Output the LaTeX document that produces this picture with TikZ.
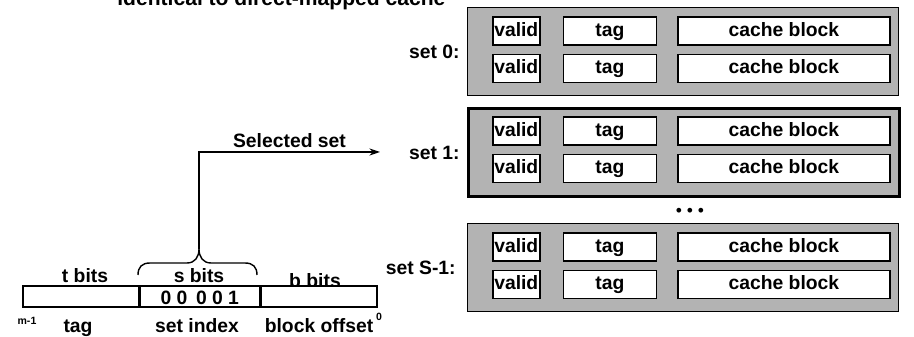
\documentclass[tikz,border=0pt]{standalone}
\usepackage{fontspec}
\setmainfont{Liberation Sans}
\usepackage{tikz}
\usetikzlibrary{arrows.meta,positioning}
\definecolor{setgray}{HTML}{B3B3B3}
\definecolor{ink}{HTML}{000000}

\begin{document}
\begin{tikzpicture}[x=0.02cm, y=-0.02cm, >={Stealth[length=6pt,width=4pt]},
  every node/.style={font=\fontsize{11}{13}\selectfont\bfseries, inner sep=0pt, text=ink},
  setbox/.style={draw=ink, line width=0.8pt, fill=setgray, minimum width=8.62cm, minimum height=1.76cm, anchor=north west},
  validbox/.style={draw=ink, line width=0.9pt, fill=white, minimum width=0.94cm, minimum height=0.56cm, text height=8pt, text depth=2pt},
  tagbox/.style={validbox, minimum width=1.86cm},
  blockbox/.style={validbox, minimum width=4.24cm},
  field/.style={draw=ink, line width=0.9pt, fill=white, minimum height=0.42cm, anchor=north west},
  tinylbl/.style={font=\fontsize{6}{7}\selectfont\bfseries}]
\useasboundingbox (0,0) rectangle (914,337);
\clip (0,0) rectangle (914,337);
\node[anchor=base west, font=\fontsize{12}{14}\selectfont\bfseries] (title) at (117,6) {identical to direct-mapped cache};
% the three sets
\node[setbox] (set0) at (467,7) {};
\node[setbox, line width=1.7pt] (set1) at (467,107) {};
\node[setbox] (setS) at (467,223) {};
\node[left=0.14cm of set0.west] (s0lbl) {set 0:};
\node[left=0.14cm of set1.west] (s1lbl) {set 1:};
\node[left=0.22cm of setS.west] (sSlbl) {set S-1:};
% set 0 lines
\node[validbox, below right=0.18cm and 0.5cm of set0.north west] (v0a) {valid};
\node[tagbox, right=0.44cm of v0a] (t0a) {tag};
\node[blockbox, right=0.4cm of t0a] (b0a) {cache block};
\node[validbox, below=0.16cm of v0a] (v0b) {valid};
\node[tagbox, right=0.44cm of v0b] (t0b) {tag};
\node[blockbox, right=0.4cm of t0b] (b0b) {cache block};
% set 1 lines
\node[validbox, below right=0.18cm and 0.5cm of set1.north west] (v1a) {valid};
\node[tagbox, right=0.44cm of v1a] (t1a) {tag};
\node[blockbox, right=0.4cm of t1a] (b1a) {cache block};
\node[validbox, below=0.16cm of v1a] (v1b) {valid};
\node[tagbox, right=0.44cm of v1b] (t1b) {tag};
\node[blockbox, right=0.4cm of t1b] (b1b) {cache block};
% set S-1 lines
\node[validbox, below right=0.18cm and 0.5cm of setS.north west] (vSa) {valid};
\node[tagbox, right=0.44cm of vSa] (tSa) {tag};
\node[blockbox, right=0.4cm of tSa] (bSa) {cache block};
\node[validbox, below=0.16cm of vSa] (vSb) {valid};
\node[tagbox, right=0.44cm of vSb] (tSb) {tag};
\node[blockbox, right=0.4cm of tSb] (bSb) {cache block};
\node[font=\fontsize{10}{12}\selectfont] (dots) at (690,212) {\textbullet\ \textbullet\ \textbullet};
% address bits
\node[anchor=base] (tbits) at (85,283) {t bits};
\node[anchor=base] (sbits) at (199,283) {s bits};
\node[anchor=base] (bbits) at (315,288) {b bits};
\node[field, minimum width=2.32cm] (tagfld) at (22,285) {};
\node[field, minimum width=2.38cm, right=0pt of tagfld] (idxfld) {};
\node[field, minimum width=2.32cm, right=0pt of idxfld] (offfld) {};
\node[anchor=base] (idxval) at ([yshift=1.5pt]idxfld.south) {0\hspace{3pt}0\hspace{5pt}0\hspace{3pt}0\hspace{3pt}1};
\node[anchor=base] (taglbl) at (78,333) {tag};
\node[anchor=base] (idxlbl) at (197,333) {set index};
\node[anchor=base] (offlbl) at (319,333) {block offset};
\node[tinylbl] (hibit) at (27,321) {m-1};
\node[tinylbl] (lobit) at (379,317) {0};
% brace over the set index
\draw[line width=0.8pt] (138,275) .. controls (138,267) and (142,263) .. (150,263)
  -- (187,263) .. controls (195,263) and (199,257) .. (199,249)
  .. controls (199,257) and (203,263) .. (211,263)
  -- (245,263) .. controls (253,263) and (257,267) .. (257,275);
\coordinate (brtip) at (199,249);
\coordinate (selend) at (380,152);
\draw[->, line width=0.8pt] (brtip) |- (selend) node[pos=0.75, above=2pt] (sellbl) {Selected set};
\end{tikzpicture}
\end{document}
